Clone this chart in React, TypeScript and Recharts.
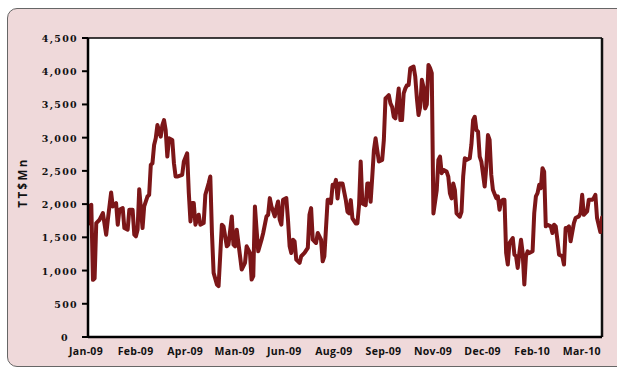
import React from 'react';
import { LineChart, Line, XAxis, YAxis, CartesianGrid, ReferenceLine } from 'recharts';

// Trading-day index of each observation (0 = first session of Jan-09)
const tradingDay = [
  0, 1, 2, 3, 4, 5, 7, 9, 11, 12,
  14, 15, 17, 18, 19, 21, 22, 24, 25, 27,
  28, 29, 30, 31, 33, 34, 36, 37, 38, 39,
  40, 41, 42, 44, 45, 46, 47, 48, 49, 51,
  52, 53, 54, 57, 58, 60, 61, 62, 63, 64,
  65, 67, 68, 70, 71, 73, 74, 75, 76, 78,
  79, 81, 82, 84, 85, 87, 88, 89, 90, 92,
  93, 95, 96, 98, 99, 100, 101, 102, 103, 105,
  106, 108, 109, 110, 111, 113, 114, 115, 116, 117,
  118, 120, 121, 122, 123, 124, 125, 126, 128, 129,
  131, 133, 134, 135, 136, 138, 139, 141, 142, 143,
  145, 146, 147, 148, 149, 150, 151, 152, 154, 156,
  157, 158, 159, 160, 162, 163, 164, 165, 166, 168,
  169, 170, 171, 172, 173, 174, 175, 176, 178, 179,
  180, 181, 182, 183, 184, 185, 186, 188, 189, 190,
  191, 192, 193, 194, 195, 197, 198, 199, 200, 201,
  202, 203, 204, 205, 206, 207, 208, 209, 211, 212,
  213, 214, 215, 217, 218, 219, 220, 221, 222, 223,
  224, 225, 226, 227, 228, 229, 231, 232, 233, 234,
  235, 236, 237, 238, 240, 241, 242, 243, 244, 245,
  247, 248, 249, 250, 251, 252, 253, 254, 255, 257,
  258, 259, 260, 261, 262, 263, 264, 265, 266, 267,
  269, 270, 271, 272, 273, 274, 275, 276, 277, 278,
  280, 281, 282, 283, 284, 285, 287, 288, 289, 290,
  291, 292, 294, 295, 297, 298, 299, 300, 301, 302,
  303, 305, 306, 307, 308, 310, 311,
];

// Value in TT$ millions for each trading day above
const valueTTMn = [
  1700, 1965, 1990, 860, 880, 1715, 1765, 1865, 1540, 1765,
  2175, 1965, 2015, 1690, 1915, 1940, 1640, 1615, 1915, 1915,
  1540, 1515, 1615, 2225, 1640, 1965, 2115, 2140, 2590, 2615,
  2890, 2990, 3190, 3015, 3190, 3265, 3115, 2715, 2990, 2965,
  2615, 2415, 2415, 2440, 2640, 2765, 2165, 1740, 2015, 2015,
  1690, 1840, 1690, 1715, 2140, 2315, 2415, 1565, 965, 790,
  765, 1690, 1665, 1365, 1390, 1815, 1390, 1365, 1615, 1215,
  1015, 1115, 1365, 1265, 865, 915, 1965, 1615, 1290, 1465,
  1565, 1815, 1840, 2090, 1965, 1815, 1940, 2040, 1765, 1690,
  2065, 2090, 1765, 1365, 1265, 1465, 1440, 1165, 1115, 1215,
  1265, 1340, 1840, 1940, 1465, 1415, 1565, 1465, 1140, 1215,
  2065, 2065, 2015, 2290, 2265, 2365, 2085, 2310, 2310, 2060,
  1885, 1860, 2060, 1785, 1710, 1710, 1985, 2640, 2010, 1985,
  2310, 2310, 2035, 2415, 2815, 2990, 2815, 2640, 2665, 2965,
  3590, 3615, 3640, 3515, 3465, 3315, 3290, 3740, 3265, 3265,
  3665, 3740, 3790, 3790, 4045, 4070, 3920, 3590, 3340, 3465,
  3870, 3765, 3440, 3500, 4095, 4045, 3970, 1860, 2210, 2665,
  2715, 2465, 2515, 2490, 2415, 2160, 2085, 2310, 2210, 1860,
  1835, 1810, 1885, 2415, 2690, 2665, 2690, 2900, 3265, 3315,
  3115, 3090, 2715, 2640, 2265, 2565, 3040, 2965, 2440, 2215,
  2090, 2115, 1915, 2040, 2065, 2065, 1265, 1090, 1415, 1490,
  1240, 1215, 1040, 1265, 1465, 1265, 790, 1215, 1290, 1265,
  1290, 1865, 2115, 2165, 2290, 2240, 2540, 2490, 1665, 1690,
  1665, 1565, 1690, 1665, 1465, 1240, 1215, 1090, 1640, 1640,
  1665, 1440, 1715, 1790, 1815, 1865, 2140, 1840, 1865, 1890,
  2065, 2065, 2090, 2140, 1790, 1580, 1800,
];

// Category labels on the time axis, one every 30 sessions
const labelDays = [0, 30, 60, 90, 120, 150, 180, 210, 240, 270, 300];
const labelText = [
  'Jan-09', 'Feb-09', 'Apr-09', 'Man-09', 'Jun-09', 'Aug-09',
  'Sep-09', 'Nov-09', 'Dec-09', 'Feb-10', 'Mar-10',
];

const valueTicks = [0, 500, 1000, 1500, 2000, 2500, 3000, 3500, 4000, 4500];

const series = tradingDay.map((d, i) => ({ day: d, value: valueTTMn[i] }));

const LINE_COLOR = '#7c1618';
const PANEL_COLOR = '#efd9da';

const fmtThousands = (v: number) => v.toLocaleString('en-US');

const XTick = (props: any) => {
  const { x, y, payload } = props;
  const idx = labelDays.indexOf(payload.value);
  return (
    <text
      x={x - 2}
      y={y + 18}
      textAnchor="middle"
      fill="#111"
      fontFamily="'Open Sans', sans-serif"
      fontWeight={700}
      fontSize={10.5}
      letterSpacing={0.3}
    >
      {idx >= 0 ? labelText[idx] : ''}
    </text>
  );
};

const YTick = (props: any) => {
  const { x, y, payload } = props;
  const isZero = payload.value === 0;
  return (
    <text
      x={isZero ? x - 8 : x + 1}
      y={y + 4}
      textAnchor="end"
      fill="#111"
      fontFamily="'DejaVu Serif', serif"
      fontWeight={700}
      fontSize={9.5}
      letterSpacing={1.3}
    >
      {fmtThousands(payload.value)}
    </text>
  );
};

const YTitle = (props: any) => {
  const { viewBox } = props;
  const cx = 22;
  const cy = viewBox.y + viewBox.height / 2 - 5;
  return (
    <text
      x={cx}
      y={cy}
      transform={`rotate(-90 ${cx} ${cy})`}
      textAnchor="middle"
      dominantBaseline="central"
      fill="#111"
      fontFamily="'Open Sans', sans-serif"
      fontWeight={700}
      fontSize={11.5}
      letterSpacing={2.4}
    >
      TT$Mn
    </text>
  );
};

export default function App() {
  return (
    <div style={{ position: 'absolute', left: 0, top: 0, width: 617, height: 367, background: '#fff', overflow: 'hidden' }}>
      <div
        style={{
          position: 'absolute',
          left: 7,
          top: 8,
          width: 630,
          height: 357,
          background: PANEL_COLOR,
          border: '1px solid #666',
          borderRadius: 10,
        }}
      />
      <div style={{ position: 'absolute', left: 0, top: 0 }}>
        <LineChart
          width={617}
          height={367}
          data={series}
          margin={{ top: 38, right: 15, bottom: 0, left: 0 }}
        >
          <CartesianGrid horizontal={false} vertical={false} fill="#ffffff" stroke="none" />
          <XAxis
            dataKey="day"
            type="number"
            domain={[0, 311]}
            ticks={labelDays}
            interval={0}
            height={30}
            tickLine={false}
            tickSize={0}
            tickMargin={0}
            axisLine={{ stroke: '#000', strokeWidth: 2.5 }}
            tick={<XTick />}
            allowDataOverflow
          />
          <YAxis
            type="number"
            domain={[0, 4500]}
            ticks={valueTicks}
            interval={0}
            width={88}
            tickSize={6}
            tickMargin={5}
            tickLine={{ stroke: '#000', strokeWidth: 2 }}
            axisLine={{ stroke: '#000', strokeWidth: 2.5 }}
            tick={<YTick />}
            label={<YTitle />}
            allowDataOverflow
          />
          <ReferenceLine y={4500} stroke="#000" strokeWidth={1.5} ifOverflow="visible" />
          <ReferenceLine x={311} stroke="#111" strokeWidth={2.5} ifOverflow="visible" />
          <Line
            type="linear"
            dataKey="value"
            stroke={LINE_COLOR}
            strokeWidth={4}
            strokeLinejoin="round"
            strokeLinecap="round"
            dot={false}
            activeDot={false}
            isAnimationActive={false}
          />
        </LineChart>
      </div>
    </div>
  );
}
